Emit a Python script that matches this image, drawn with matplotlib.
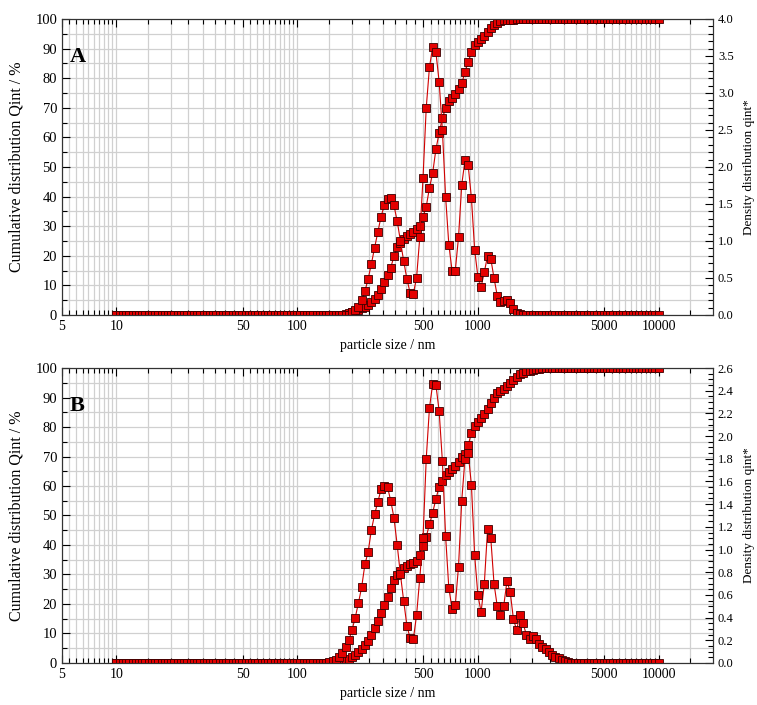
import numpy as np
import matplotlib
matplotlib.use('Agg')
import matplotlib.pyplot as plt
from matplotlib.ticker import FixedLocator, MultipleLocator, NullFormatter, FixedFormatter, FormatStrFormatter

plt.rcParams['font.family'] = ['Liberation Serif', 'DejaVu Serif']

# size classes of the instrument: 56 per decade, 10 nm .. 10 um
sizes = np.geomspace(10, 10000, 169)

# panel A
cum_a = ([0.0] * 71 +
         [0.5, 0.8, 1.0, 1.2, 1.6, 2.2, 2.8, 3.5, 4.3, 5.4,
          6.6, 8.7, 11.3, 13.4, 16.0, 19.8, 22.8, 24.4, 25.6, 26.7,
          27.5, 28.1, 28.9, 30.1, 33.0, 36.6, 43.0, 48.0, 56.0, 61.5,
          66.5, 70.0, 72.3, 73.4, 74.8, 76.3, 78.2, 82.0, 85.5, 89.0,
          91.1, 92.2, 93.4, 94.3, 95.6, 96.8, 98.0, 98.8, 99.3, 99.5,
          99.6, 99.7, 99.8, 99.9] +
         [100.0] * 44)
dens_a = ([0.0] * 73 +
          [0.04, 0.07, 0.11, 0.20, 0.32, 0.49, 0.69, 0.91, 1.12, 1.33,
           1.48, 1.57, 1.58, 1.48, 1.27, 1.00, 0.73, 0.49, 0.30, 0.29,
           0.50, 1.05, 1.85, 2.80, 3.35, 3.62, 3.55, 3.15, 2.50, 1.60,
           0.95, 0.60, 0.60, 1.05, 1.76, 2.09, 2.02, 1.58, 0.88, 0.52,
           0.38, 0.58, 0.80, 0.76, 0.50, 0.26, 0.18, 0.19, 0.20, 0.16,
           0.08, 0.03, 0.01] +
          [0.0] * 43)

# panel B
cum_b = ([0.0] * 69 +
         [0.3, 0.6, 0.9, 1.4, 2.0, 2.7, 3.6, 4.8, 6.0, 7.6,
          9.5, 11.8, 14.2, 16.8, 19.8, 22.5, 25.5, 28.0, 29.8, 31.3,
          32.2, 32.9, 33.4, 33.8, 34.7, 36.5, 39.8, 42.8, 47.0, 51.0,
          55.6, 59.8, 61.6, 63.6, 64.9, 65.7, 66.7, 68.1, 69.8, 71.0,
          73.8, 78.0, 80.4, 81.8, 83.0, 84.3, 86.2, 88.0, 89.8, 91.4,
          92.2, 93.0, 93.9, 95.0, 95.9, 96.8, 97.8, 98.3, 98.9, 99.1,
          99.4, 99.7, 99.8, 99.9] +
         [100.0] * 36)
dens_b = ([0.0] * 66 +
          [0.01, 0.02, 0.03, 0.05, 0.09, 0.14, 0.20, 0.29, 0.40, 0.53,
           0.67, 0.87, 0.98, 1.17, 1.31, 1.42, 1.53, 1.56, 1.55, 1.43,
           1.28, 1.04, 0.78, 0.55, 0.33, 0.22, 0.21, 0.42, 0.75, 1.10,
           1.80, 2.25, 2.46, 2.45, 2.22, 1.78, 1.12, 0.66, 0.48, 0.51,
           0.85, 1.43, 1.80, 1.85, 1.57, 0.95, 0.60, 0.45, 0.70, 1.18,
           1.10, 0.70, 0.50, 0.42, 0.50, 0.72, 0.63, 0.39, 0.29, 0.42,
           0.35, 0.25, 0.21, 0.24, 0.21, 0.17, 0.14, 0.12, 0.10, 0.07,
           0.05, 0.04, 0.03, 0.02, 0.01] +
          [0.0] * 28)

x_major = [5, 10, 50, 100, 500, 1000, 5000, 10000]
x_labels = ['5', '10', '50', '100', '500', '1000', '5000', '10000']
subs = [1.5, 2, 2.5, 3, 3.5, 4, 4.5, 5.5, 6, 6.5, 7, 7.5, 8, 8.5, 9, 9.5]
x_minor = [d * s for d in (1, 10, 100, 1000, 10000) for s in subs if 5 < d * s < 20000]

style = dict(color='#d00000', lw=0.8, marker='s', ms=5.5, mfc='#e40000',
             mec='#3a0000', mew=0.6)


def draw_panel(ax, cum, dens, dmax, dstep, dminor, letter):
    ax.set_xscale('log')
    ax.set_xlim(5, 20000)
    ax.set_ylim(0, 100)
    ax.xaxis.set_major_locator(FixedLocator(x_major))
    ax.xaxis.set_major_formatter(FixedFormatter(x_labels))
    ax.xaxis.set_minor_locator(FixedLocator(x_minor))
    ax.xaxis.set_minor_formatter(NullFormatter())
    ax.yaxis.set_major_locator(MultipleLocator(10))
    ax.yaxis.set_minor_locator(MultipleLocator(5))
    ax.grid(True, which='both', color='#d0d0d0', lw=0.9)
    ax.set_axisbelow(True)
    ax.tick_params(which='both', direction='in', top=True, right=False, width=0.8)
    ax.tick_params(which='major', length=6)
    ax.tick_params(which='minor', length=3.5)
    ax.tick_params(axis='y', labelsize=10.5)
    ax.tick_params(axis='x', labelsize=10)
    ax.plot(sizes, cum, **style)

    ax2 = ax.twinx()
    ax2.set_ylim(0, dmax)
    ax2.yaxis.set_major_locator(MultipleLocator(dstep))
    ax2.yaxis.set_minor_locator(MultipleLocator(dminor))
    ax2.yaxis.set_major_formatter(FormatStrFormatter('%.1f'))
    ax2.tick_params(which='both', direction='in', width=0.8, labelsize=9)
    ax2.tick_params(which='major', length=6)
    ax2.tick_params(which='minor', length=3.5)
    ax2.plot(sizes, dens, **style)

    for a in (ax, ax2):
        for sp in a.spines.values():
            sp.set_color('#333333')

    ax.set_xlabel('particle size / nm', fontsize=10)
    ax.xaxis.set_label_coords(0.5, -0.08)
    ax.set_ylabel('Cumulative distribution Qint / %', fontsize=11.5)
    ax.yaxis.set_label_coords(-0.057, 0.5)
    ax2.set_ylabel('Density distribution qint*', fontsize=9.5)
    ax2.yaxis.set_label_coords(1.046, 0.5)
    ax.text(0.012, 0.87, letter, transform=ax.transAxes, fontsize=16,
            fontweight='bold', va='center', ha='left')


fig = plt.figure(figsize=(7.57, 7.05), dpi=100)
ax_a = fig.add_axes([0.0819, 0.5532, 0.86, 0.4199])
ax_b = fig.add_axes([0.0819, 0.0596, 0.86, 0.4184])
draw_panel(ax_a, cum_a, dens_a, 4.0, 0.5, 0.1, 'A')
draw_panel(ax_b, cum_b, dens_b, 2.6, 0.2, 0.05, 'B')
fig.savefig('out.png', dpi=100)
